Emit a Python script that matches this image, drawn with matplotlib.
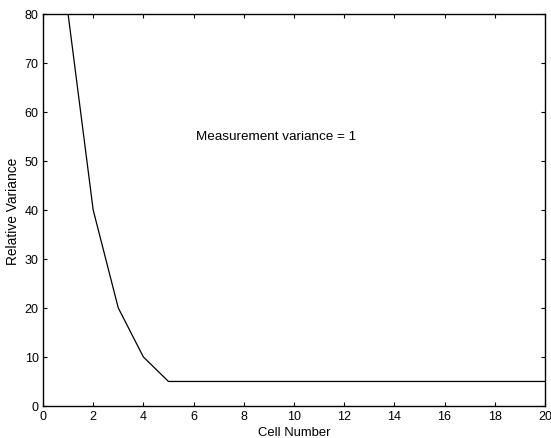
import matplotlib
matplotlib.use("Agg")
import matplotlib.pyplot as plt

plt.rcParams['font.family'] = ['Liberation Sans', 'DejaVu Sans']

cells = [1, 2, 3, 4, 5, 6, 7, 8, 9, 10, 11, 12, 13, 14, 15, 16, 17, 18, 19, 20]
variance = [80, 40, 20, 10, 5, 5, 5, 5, 5, 5, 5, 5, 5, 5, 5, 5, 5, 5, 5, 5]
xticks = [0, 2, 4, 6, 8, 10, 12, 14, 16, 18, 20]
yticks = [0, 10, 20, 30, 40, 50, 60, 70, 80]

fig = plt.figure(figsize=(5.51, 4.39), dpi=100)
ax = fig.add_axes([0.078, 0.073, 0.911, 0.893])
ax.plot(cells, variance, color="black", linewidth=0.9)
ax.set_xlim(0, 20)
ax.set_ylim(0, 80)
ax.set_xticks(xticks)
ax.set_yticks(yticks)
ax.tick_params(direction="in", top=True, right=True, labelsize=9, length=3, width=0.8, pad=3)
for s in ax.spines.values():
    s.set_linewidth(1.0)
ax.set_xlabel("Cell Number", fontsize=9.4, labelpad=3)
ax.set_ylabel("Relative Variance", fontsize=9.9, labelpad=3.5)
ax.text(6.1, 55.1, "Measurement variance = 1", fontsize=9.7, ha="left", va="center")
fig.savefig("out.png", dpi=100)
